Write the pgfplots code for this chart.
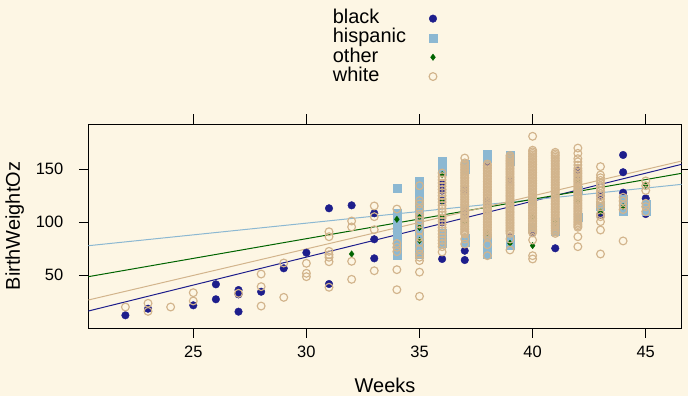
\documentclass[border=0pt]{standalone}
\usepackage{fontspec}
\setmainfont{Liberation Sans}
\usepackage{pgfplots}
\pgfplotsset{compat=1.18}
\definecolor{bgc}{RGB}{253,246,228}
\definecolor{cblack}{RGB}{30,30,140}
\definecolor{chisp}{RGB}{140,184,210}
\definecolor{cother}{RGB}{0,100,0}
\definecolor{cwhite}{RGB}{210,180,140}
\pgfplotsset{
  whitestyle/.style={only marks, mark=o, mark size=3.9bp, color=cwhite, mark options={draw=cwhite, line width=1.15bp}},
}
\begin{document}
\begin{tikzpicture}
\fill[bgc] (0,0) rectangle (688bp,396bp);
\useasboundingbox (0,0) rectangle (688bp,396bp);
\begin{axis}[
  at={(88.3bp,68bp)}, anchor=south west,
  scale only axis, width=593.4bp, height=204bp,
  xmin=20.36, xmax=46.59, ymin=0.3, ymax=192.7,
  xtick={25,30,35,40,45}, ytick={50,100,150},
  tick align=outside, major tick length=9.5bp,
  xtick pos=both, ytick pos=both,
  xticklabel pos=lower, yticklabel pos=left,
  axis line style={line width=0.9bp, black},
  every tick/.style={line width=0.9bp, black},
  /pgf/number format/assume math mode=true,
  tick label style={font=\fontsize{16.5}{18}\selectfont},
  yticklabel style={xshift=-12bp},
  xticklabel style={yshift=-5bp},
  xlabel={Weeks}, ylabel={BirthWeightOz},
  label style={font=\fontsize{20}{22}\selectfont},
  xlabel style={at={(axis description cs:0.5,0)}, anchor=base, yshift=-64bp},
  ylabel style={at={(axis description cs:0,0.5)}, anchor=center, yshift=73.6bp},
  clip=true,
  legend plot pos=right,
  legend cell align=left,
  legend image code/.code={\draw[#1] plot coordinates {(0bp,0bp)};},
  legend style={at={(axis description cs:0.4068,1.5745)}, anchor=north west,
    draw=none, fill=none, font=\fontsize{20}{20}\selectfont,
    nodes={inner sep=0pt, text height=14.5bp, text depth=4.8bp},
    row sep=0pt, column sep=23bp},
]
% black
\addplot[only marks, mark=*, mark size=3.8bp, color=cblack, mark options={fill=cblack, draw=cblack}] coordinates {
(22,12.3) (23,18.5) (25,21.7) (26,41.5) (26,27.4) (27,36.1) (27,32) (27,15.7) (28,34.5) (29,56.6) (30,71.3) (31,113.2) (31,41.8) (32,116) (33,108.5) (33,84) (33,66) (34,107.2) (34,99.3) (34,93.4) (34,91.1) (34,76.4) (35,100) (35,92) (35,78) (35,73.9) (36,136) (36,129.8) (36,120.4) (36,100) (36,65.4) (37,130) (37,110) (37,73.2) (37,64.4) (38,161.3) (38,157) (38,120) (39,140) (39,85.8) (40,90.6) (41,75.5) (42,148.7) (42,140) (43,125) (43,106.9) (44,163.5) (44,147.2) (44,127.9) (45,122.6) (45,107.8)
};
\addlegendentry{black}
\addplot[forget plot, no marks, line width=1bp, color=cblack] coordinates {(20.36,16.3) (46.59,154.7)};
% hispanic
\addplot[only marks, mark=square*, mark size=4bp, color=chisp, mark options={fill=chisp, draw=chisp}] coordinates {
(34,131.7) (34,109) (34,104) (34,99) (34,94) (34,89) (34,84) (34,79) (34,74) (34,69) (35,139) (35,134) (35,128) (35,122) (35,116) (35,110) (35,104) (35,98) (35,92) (35,86) (35,80) (35,75) (35,70) (36,158) (36,153) (36,148) (36,90) (36,84) (36,80) (37,155) (37,150) (37,85) (37,81) (38,164.5) (38,160) (38,85) (38,80) (38,75) (38,70) (39,163.5) (39,158) (39,84) (39,78) (40,95) (40,120) (41,92) (41,100) (42,105) (42,130) (43,115) (44,122) (44,118) (44,114) (44,110) (45,117) (45,113) (45,110.4)
};
\addlegendentry{hispanic}
\addplot[forget plot, no marks, line width=1bp, color=chisp] coordinates {(20.36,77.9) (46.59,135.8)};
% other
\addplot[only marks, mark=diamond*, mark size=3.2bp, color=cother, mark options={fill=cother, draw=cother}] coordinates {
(32,70.1) (34,102.8) (35,105) (35,95) (35,83) (36,145) (36,120) (36,105) (37,100) (38,90) (39,80.2) (40,78) (40,105) (41,100) (42,139.9) (42,120) (43,110) (44,114.7) (45,134.9)
};
\addlegendentry{other}
\addplot[forget plot, no marks, line width=1bp, color=cother] coordinates {(20.36,48.7) (46.59,146.2)};
% white (isolated points and chains)
\addplot[whitestyle] coordinates {
(22,20.1) (23,23.6) (23,16) (24,20.1) (25,33.6) (25,25.8) (27,33) (28,51.2) (28,39.3) (28,21) (29,61.6) (29,29.2) (30,61.3) (30,51.9) (30,48.7)
(31,91.1) (31,86.4) (31,72.6) (31,69.4) (31,67) (31,62.8) (31,38.7)
(32,101.2) (32,95.6) (32,63.2) (32,46.2)
(33,115.4) (33,105.3) (33,93) (33,54.3)
(34,112.5) (34,80) (34,76.4) (34,72.3) (34,55.3) (34,36.4)
(35,134.5) (35,120.4) (35,117.3) (35,112.5) (35,107.8) (35,104.7) (35,101.5) (35,98.4) (35,92.1) (35,85.8) (35,81.1) (35,74.8) (35,70.1) (35,67) (35,63.8) (35,53) (35,30.2)
(36,146.5) (36,143) (36,140) (36,137) (36,134) (36,131) (36,128) (36,125) (36,122) (36,119) (36,116) (36,113) (36,110) (36,107) (36,104) (36,101) (36,98) (36,95) (36,92) (36,89) (36,86) (36,83) (36,80) (36,77) (36,72)
(37,160.6) (37,84.2) (37,79.5)
(38,78.9) (38,68.5)
(39,84.2) (39,73.9)
(40,181.1) (40,83.3) (40,68.5) (40,65.4)
(42,170) (42,165) (42,160) (42,157) (42,154) (42,151) (42,86.4) (42,77)
(43,152.5) (43,144.6) (43,142) (43,139.5) (43,137) (43,134.5) (43,132) (43,129.5) (43,127) (43,124.5) (43,122) (43,119.5) (43,117) (43,114.7) (43,108) (43,105.3) (43,100.6) (43,92.7) (43,70.1)
(44,123.6) (44,120) (44,116) (44,112) (44,82.4)
(45,139) (45,134.5) (45,130) (45,117.9) (45,114.7) (45,110)
};
\addlegendentry{white}
% white (dense columns)
\addplot[whitestyle, forget plot] coordinates {
(37,156) (37,154.5) (37,153) (37,151.5) (37,150) (37,148.5) (37,147) (37,145.5) (37,144) (37,142.5) (37,141) (37,139.5) (37,138) (37,136.5) (37,135) (37,133.5) (37,132) (37,130.5) (37,129) (37,127.5) (37,126) (37,124.5) (37,123) (37,121.5) (37,120) (37,118.5) (37,117) (37,115.5) (37,114) (37,112.5) (37,111) (37,109.5) (37,108) (37,106.5) (37,105) (37,103.5) (37,102) (37,100.5) (37,99) (37,97.5) (37,96) (37,94.5) (37,93) (37,91.5) (37,90) (37,89)
(38,155) (38,153.5) (38,152) (38,150.5) (38,149) (38,147.5) (38,146) (38,144.5) (38,143) (38,141.5) (38,140) (38,138.5) (38,137) (38,135.5) (38,134) (38,132.5) (38,131) (38,129.5) (38,128) (38,126.5) (38,125) (38,123.5) (38,122) (38,120.5) (38,119) (38,117.5) (38,116) (38,114.5) (38,113) (38,111.5) (38,110) (38,108.5) (38,107) (38,105.5) (38,104) (38,102.5) (38,101) (38,99.5) (38,98) (38,96.5) (38,95) (38,93.5) (38,92) (38,90.5) (38,89) (38,87.5) (38,86)
(39,163) (39,161.5) (39,160) (39,158.5) (39,157) (39,155.5) (39,154) (39,152.5) (39,151) (39,149.5) (39,148) (39,146.5) (39,145) (39,143.5) (39,142) (39,140.5) (39,139) (39,137.5) (39,136) (39,134.5) (39,133) (39,131.5) (39,130) (39,128.5) (39,127) (39,125.5) (39,124) (39,122.5) (39,121) (39,119.5) (39,118) (39,116.5) (39,115) (39,113.5) (39,112) (39,110.5) (39,109) (39,107.5) (39,106) (39,104.5) (39,103) (39,101.5) (39,100) (39,98.5) (39,97) (39,95.5) (39,94) (39,92.5) (39,91) (39,89.5)
(40,168) (40,166.5) (40,165) (40,163.5) (40,162) (40,160.5) (40,159) (40,157.5) (40,156) (40,154.5) (40,153) (40,151.5) (40,150) (40,148.5) (40,147) (40,145.5) (40,144) (40,142.5) (40,141) (40,139.5) (40,138) (40,136.5) (40,135) (40,133.5) (40,132) (40,130.5) (40,129) (40,127.5) (40,126) (40,124.5) (40,123) (40,121.5) (40,120) (40,118.5) (40,117) (40,115.5) (40,114) (40,112.5) (40,111) (40,109.5) (40,108) (40,106.5) (40,105) (40,103.5) (40,102) (40,100.5) (40,99) (40,97.5) (40,96) (40,94.5) (40,93) (40,91.5) (40,90)
(41,166) (41,164.5) (41,163) (41,161.5) (41,160) (41,158.5) (41,157) (41,155.5) (41,154) (41,152.5) (41,151) (41,149.5) (41,148) (41,146.5) (41,145) (41,143.5) (41,142) (41,140.5) (41,139) (41,137.5) (41,136) (41,134.5) (41,133) (41,131.5) (41,130) (41,128.5) (41,127) (41,125.5) (41,124) (41,122.5) (41,121) (41,119.5) (41,118) (41,116.5) (41,115) (41,113.5) (41,112) (41,110.5) (41,109) (41,107.5) (41,106) (41,104.5) (41,103) (41,101.5) (41,100) (41,98.5) (41,97) (41,95.5) (41,94) (41,92.5) (41,91) (41,89.5)
(42,149) (42,147.5) (42,146) (42,144.5) (42,143) (42,141.5) (42,140) (42,138.5) (42,137) (42,135.5) (42,134) (42,132.5) (42,131) (42,129.5) (42,128) (42,126.5) (42,125) (42,123.5) (42,122) (42,120.5) (42,119) (42,117.5) (42,116) (42,114.5) (42,113) (42,111.5) (42,110) (42,108.5) (42,107) (42,105.5) (42,104) (42,102.5) (42,101) (42,99.5) (42,98) (42,96.5) (42,95.3)
};
\addplot[forget plot, no marks, line width=1bp, color=cwhite] coordinates {(20.36,26.7) (46.59,157.8)};
\end{axis}
\end{tikzpicture}
\end{document}
